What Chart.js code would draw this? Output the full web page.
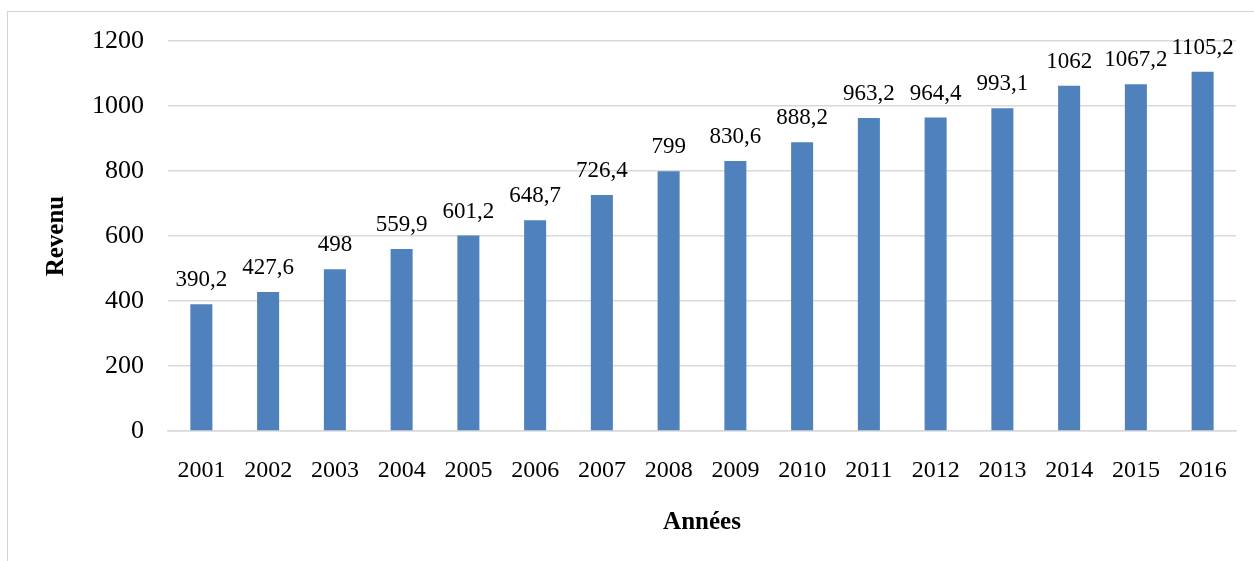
<!DOCTYPE html>
<html>
<head>
<meta charset="utf-8">
<script src="https://cdn.jsdelivr.net/npm/chart.js@4"></script>
<style>
    body { margin: 0; background: #fff; overflow: hidden; }
    .frame { position: absolute; left: 7px; top: 11px; width: 1300px; height: 600px; border: 1px solid #d4d4d4; }
    #revenuChart { position: absolute; left: 0; top: 0; }
</style>
</head>
<body>
<div class="frame"></div>
<canvas id="revenuChart" width="1254" height="561"></canvas>
<script>
const annees = ['2001','2002','2003','2004','2005','2006','2007','2008','2009','2010','2011','2012','2013','2014','2015','2016'];
const revenu = [390.2, 427.6, 498, 559.9, 601.2, 648.7, 726.4, 799, 830.6, 888.2, 963.2, 964.4, 993.1, 1062, 1067.2, 1105.2];
const yTicks = [0, 200, 400, 600, 800, 1000, 1200];

const serif = 'Liberation Serif, Times New Roman, serif';

// values written above each bar, decimal comma
const valueLabels = {
    id: 'valueLabels',
    afterDatasetsDraw(chart) {
        const c = chart.ctx;
        const meta = chart.getDatasetMeta(0);
        c.save();
        c.font = '23px ' + serif;
        c.fillStyle = '#000';
        c.textAlign = 'center';
        c.textBaseline = 'alphabetic';
        meta.data.forEach((bar, i) => {
            const txt = String(revenu[i]).replace('.', ',');
            c.fillText(txt, bar.x, bar.y - 18);
        });
        c.restore();
    }
};

const ctx = document.getElementById('revenuChart');

new Chart(ctx, {
    type: 'bar',
    data: {
        labels: annees,
        datasets: [{
            label: 'Revenu',
            data: revenu,
            backgroundColor: '#4f81bd',
            barPercentage: 0.33,
            categoryPercentage: 1
        }]
    },
    options: {
        responsive: false,
        animation: false,
        layout: { padding: { left: 0, right: 18, top: 41, bottom: 0 } },
        plugins: {
            legend: { display: false },
            tooltip: { enabled: false }
        },
        scales: {
            x: {
                grid: { display: false, drawTicks: false },
                border: { color: '#d9d9d9', width: 1.5 },
                ticks: { color: '#000', font: { family: serif, size: 24 }, padding: 25 },
                title: {
                    display: true,
                    text: 'Années',
                    color: '#000',
                    font: { family: serif, size: 25, weight: 'bold' },
                    padding: { top: 0, bottom: 23 }
                },
                afterFit(scale) { scale.height = 130; }
            },
            y: {
                min: 0,
                max: 1200,
                afterBuildTicks(scale) { scale.ticks = yTicks.map(v => ({ value: v })); },
                grid: { color: '#d9d9d9', lineWidth: 1.5, drawTicks: false },
                border: { display: false },
                ticks: {
                    color: '#000',
                    font: { family: serif, size: 26 },
                    padding: 24,
                    callback: v => String(v)
                },
                title: {
                    display: true,
                    text: 'Revenu',
                    color: '#000',
                    font: { family: serif, size: 25, weight: 'bold' },
                    padding: { top: 42, bottom: 0 }
                },
                afterFit(scale) { scale.width = 168; }
            }
        }
    },
    plugins: [valueLabels]
});
</script>
</body>
</html>
